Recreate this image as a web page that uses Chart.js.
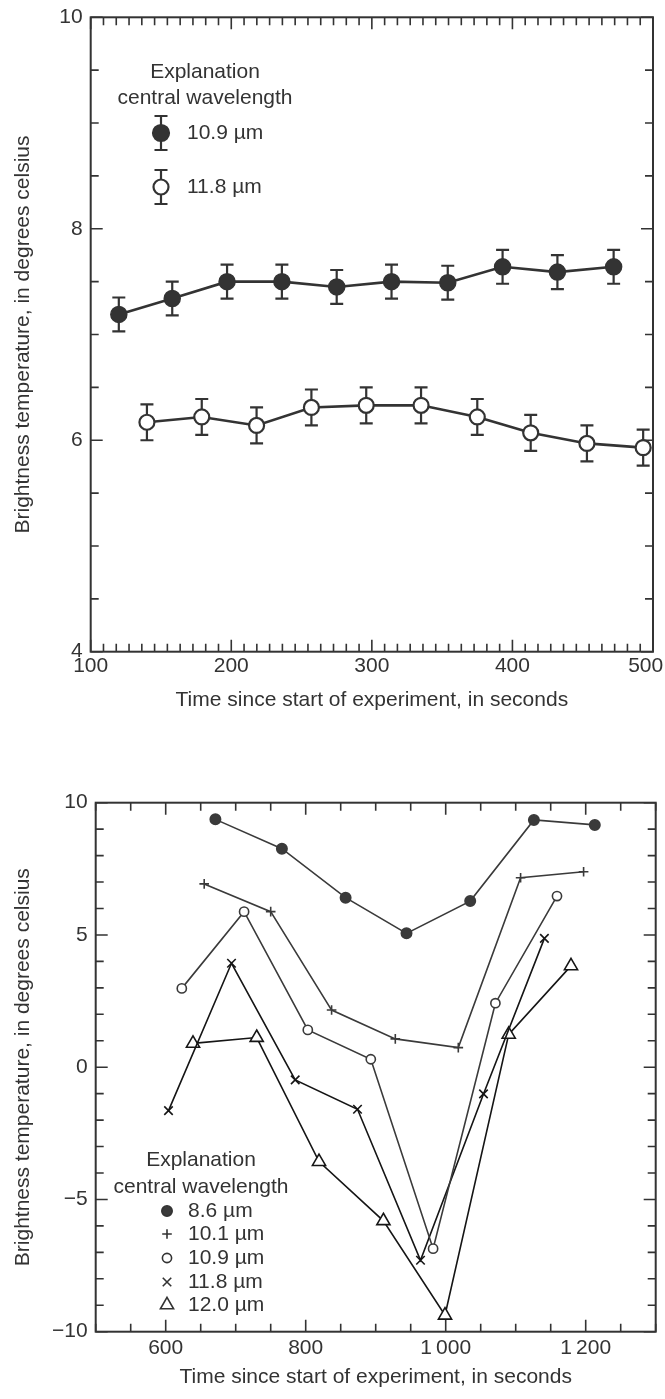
<!DOCTYPE html>
<html>
<head>
<meta charset="utf-8">
<script src="https://cdn.jsdelivr.net/npm/chart.js@4.4.0/dist/chart.umd.min.js"></script>
<style>
body{margin:0;background:#fff;}
#c1{position:absolute;left:0;top:0;}
#c2{position:absolute;left:0;top:730px;}
</style>
</head>
<body>
<canvas id="c1" width="665" height="730"></canvas>
<canvas id="c2" width="665" height="669"></canvas>
<script>
// ---- top chart data (seconds, deg C, +/- error) ----
const topNames = ['10.9 µm', '11.8 µm'];
const topTimeA = [120, 158, 197, 236, 275, 314, 354, 393, 432, 472];
const topTempA = [7.19, 7.34, 7.50, 7.50, 7.45, 7.50, 7.49, 7.64, 7.59, 7.64];
const topErrA  = [0.16, 0.16, 0.16, 0.16, 0.16, 0.16, 0.16, 0.16, 0.16, 0.16];
const topTimeB = [140, 179, 218, 257, 296, 335, 375, 413, 453, 493];
const topTempB = [6.17, 6.22, 6.14, 6.31, 6.33, 6.33, 6.22, 6.07, 5.97, 5.93];
const topErrB  = [0.17, 0.17, 0.17, 0.17, 0.17, 0.17, 0.17, 0.17, 0.17, 0.17];
const topXLabels = [100, 200, 300, 400, 500];
const topYLabels = [4, 6, 8, 10];

// ---- bottom chart data ----
const botNames = ['8.6 µm', '10.1 µm', '10.9 µm', '11.8 µm', '12.0 µm'];
const t86  = [671, 766, 857, 944, 1035, 1126, 1213];
const v86  = [9.37, 8.26, 6.41, 5.06, 6.28, 9.35, 9.16];
const t101 = [655, 750, 837, 928, 1018, 1107, 1197];
const v101 = [6.93, 5.88, 2.16, 1.07, 0.74, 7.16, 7.39];
const t109 = [623, 712, 803, 893, 982, 1071, 1159];
const v109 = [2.98, 5.88, 1.41, 0.30, -6.86, 2.42, 6.47];
const t118 = [604, 694, 785, 874, 964, 1054, 1141];
const v118 = [-1.64, 3.93, -0.48, -1.59, -7.30, -1.01, 4.87];
const t120 = [639, 730, 819, 911, 999, 1090, 1179];
const v120 = [0.90, 1.12, -3.57, -5.81, -9.38, 1.24, 3.83];
const botXLabels = [600, 800, 1000, 1200];
const botYLabels = [-10, -5, 0, 5, 10];

const FONT = '"Liberation Sans", Arial, sans-serif';
const INK = '#333';

const pts = (xs, ys) => xs.map((x, i) => ({x: x, y: ys[i]}));
const range = (a, b, step) => { const r = []; for (let v = a; v <= b + 1e-9; v += step) r.push(v); return r; };

// marker shapes for legends
function mark(ctx, style, x, y, r, fill) {
  ctx.beginPath();
  if (style === 'circle') {
    ctx.arc(x, y, r, 0, Math.PI * 2);
    ctx.fillStyle = fill; ctx.fill(); ctx.stroke();
  } else if (style === 'cross') {
    ctx.moveTo(x - r, y); ctx.lineTo(x + r, y);
    ctx.moveTo(x, y - r); ctx.lineTo(x, y + r); ctx.stroke();
  } else if (style === 'crossRot') {
    const d = r * Math.SQRT1_2;
    ctx.moveTo(x - d, y - d); ctx.lineTo(x + d, y + d);
    ctx.moveTo(x + d, y - d); ctx.lineTo(x - d, y + d); ctx.stroke();
  } else if (style === 'triangle') {
    for (let k = 0; k < 3; k++) {
      const a = k * 2 * Math.PI / 3;
      const px = x + Math.sin(a) * r, py = y - Math.cos(a) * r;
      k ? ctx.lineTo(px, py) : ctx.moveTo(px, py);
    }
    ctx.closePath(); ctx.fillStyle = '#fff'; ctx.fill(); ctx.stroke();
  }
}

// frame with inward ticks on all four sides
const frameTicks = {
  id: 'frameTicks',
  beforeDatasetsDraw(chart, args, o) {
    const {ctx, chartArea: a, scales: {x, y}} = chart;
    ctx.save();
    ctx.strokeStyle = INK;
    ctx.lineWidth = 1.6;
    ctx.beginPath();
    const tx = (v, len) => {
      const p = x.getPixelForValue(v);
      ctx.moveTo(p, a.bottom); ctx.lineTo(p, a.bottom - len);
      ctx.moveTo(p, a.top); ctx.lineTo(p, a.top + len);
    };
    const ty = (v, len) => {
      const p = y.getPixelForValue(v);
      ctx.moveTo(a.left, p); ctx.lineTo(a.left + len, p);
      ctx.moveTo(a.right, p); ctx.lineTo(a.right - len, p);
    };
    o.xMinor.forEach(v => tx(v, o.minorLen));
    o.xMajor.forEach(v => tx(v, o.majorLen));
    o.yMinor.forEach(v => ty(v, o.minorLen));
    o.yMajor.forEach(v => ty(v, o.majorLen));
    ctx.stroke();
    ctx.lineWidth = 2;
    ctx.strokeRect(a.left, a.top, a.right - a.left, a.bottom - a.top);
    ctx.restore();
  }
};

// vertical error bars, drawn under the markers
const errorBars = {
  id: 'errorBars',
  beforeDatasetsDraw(chart) {
    const {ctx, scales: {x, y}} = chart;
    ctx.save();
    ctx.strokeStyle = INK;
    ctx.lineWidth = 2.2;
    chart.data.datasets.forEach(ds => {
      if (!ds.errors) return;
      ds.data.forEach((p, i) => {
        const px = x.getPixelForValue(p.x);
        const hi = y.getPixelForValue(p.y + ds.errors[i]);
        const lo = y.getPixelForValue(p.y - ds.errors[i]);
        ctx.beginPath();
        ctx.moveTo(px, hi); ctx.lineTo(px, lo);
        ctx.moveTo(px - 6.5, hi); ctx.lineTo(px + 6.5, hi);
        ctx.moveTo(px - 6.5, lo); ctx.lineTo(px + 6.5, lo);
        ctx.stroke();
      });
    });
    ctx.restore();
  }
};

// "Explanation" box
const explanation = {
  id: 'explanation',
  afterDraw(chart, args, o) {
    const ctx = chart.ctx;
    ctx.save();
    ctx.font = '21px ' + FONT;
    ctx.fillStyle = INK;
    ctx.textBaseline = 'middle';
    ctx.textAlign = 'center';
    ctx.fillText('Explanation', o.cx, o.y1);
    ctx.fillText('central wavelength', o.cx, o.y2);
    o.items.forEach(it => {
      ctx.strokeStyle = INK;
      ctx.lineWidth = it.lw;
      if (it.err) {
        ctx.beginPath();
        ctx.moveTo(o.mx, it.y - it.err); ctx.lineTo(o.mx, it.y + it.err);
        ctx.moveTo(o.mx - 6.5, it.y - it.err); ctx.lineTo(o.mx + 6.5, it.y - it.err);
        ctx.moveTo(o.mx - 6.5, it.y + it.err); ctx.lineTo(o.mx + 6.5, it.y + it.err);
        ctx.stroke();
      }
      mark(ctx, it.style, o.mx, it.y, it.r, it.fill);
      ctx.fillStyle = INK;
      ctx.textAlign = 'left';
      ctx.fillText(it.label, o.tx, it.y);
    });
    ctx.restore();
  }
};

function axisFont() { return {family: FONT, size: 21}; }
function minus(v) { return String(v).replace('-', '\u2212'); }

// ---------------- top chart ----------------
new Chart(document.getElementById('c1'), {
  type: 'line',
  data: {
    datasets: [
      {
        label: topNames[0], data: pts(topTimeA, topTempA), errors: topErrA,
        borderColor: INK, borderWidth: 2.6, tension: 0,
        pointStyle: 'circle', pointRadius: 8, pointBackgroundColor: INK,
        pointBorderColor: INK, pointBorderWidth: 1.5, clip: false
      },
      {
        label: topNames[1], data: pts(topTimeB, topTempB), errors: topErrB,
        borderColor: INK, borderWidth: 2.6, tension: 0,
        pointStyle: 'circle', pointRadius: 7.5, pointBackgroundColor: '#fff',
        pointBorderColor: INK, pointBorderWidth: 2.2, clip: false
      }
    ]
  },
  options: {
    responsive: false, animation: false,
    layout: {padding: {top: 17.3, right: 12, bottom: 0, left: 0}},
    plugins: {
      legend: {display: false}, tooltip: {enabled: false},
      frameTicks: {
        xMinor: range(100, 500, 100 / 11), xMajor: topXLabels,
        yMinor: range(4, 10, 0.5), yMajor: topYLabels,
        minorLen: 8, majorLen: 12
      },
      explanation: {
        cx: 205, y1: 72, y2: 98, mx: 161, tx: 187,
        items: [
          {label: topNames[0], style: 'circle', y: 133, r: 8, fill: INK, lw: 2.2, err: 17},
          {label: topNames[1], style: 'circle', y: 187, r: 7.5, fill: '#fff', lw: 2.2, err: 17}
        ]
      }
    },
    scales: {
      x: {
        type: 'linear', min: 100, max: 500,
        grid: {display: false, drawTicks: false}, border: {display: false},
        afterBuildTicks: s => { s.ticks = topXLabels.map(v => ({value: v})); },
        afterFit: s => { s.height = 730 - 651.7; s.paddingLeft = 0; s.paddingRight = 0; },
        ticks: {
          color: INK, font: axisFont(), padding: 2, maxRotation: 0, autoSkip: false,
          // last label kept inside the page, as in the original
          callback: v => v === 500 ? '500\u2002\u2009' : String(v)
        },
        title: {display: true, text: 'Time since start of experiment, in seconds', color: INK,
                font: axisFont(), padding: {top: 0, bottom: 17}}
      },
      y: {
        type: 'linear', min: 4, max: 10,
        grid: {display: false, drawTicks: false}, border: {display: false},
        afterBuildTicks: s => { s.ticks = topYLabels.map(v => ({value: v})); },
        afterFit: s => { s.width = 90.7; s.paddingTop = 0; s.paddingBottom = 0; },
        ticks: {color: INK, font: axisFont(), padding: 8},
        title: {display: true, text: 'Brightness temperature, in degrees celsius', color: INK,
                font: axisFont(), padding: {top: 11, bottom: 0}}
      }
    }
  },
  plugins: [frameTicks, errorBars, explanation]
});

// ---------------- bottom chart ----------------
const grey = '#3a3a3a', dark = '#151515';
function series(label, xs, ys, style, r, fill, color) {
  return {
    label: label, data: pts(xs, ys), borderColor: color, borderWidth: 1.6, tension: 0,
    pointStyle: style, pointRadius: r, pointBackgroundColor: fill,
    pointBorderColor: color, pointBorderWidth: 1.6, clip: false
  };
}

new Chart(document.getElementById('c2'), {
  type: 'line',
  data: {
    datasets: [
      series(botNames[0], t86, v86, 'circle', 5.2, grey, grey),
      series(botNames[1], t101, v101, 'cross', 4.8, grey, grey),
      series(botNames[2], t109, v109, 'circle', 4.6, '#fff', grey),
      series(botNames[3], t118, v118, 'crossRot', 6, dark, dark),
      series(botNames[4], t120, v120, 'triangle', 7.6, '#fff', dark)
    ]
  },
  options: {
    responsive: false, animation: false,
    layout: {padding: {top: 72.7, right: 9.3, bottom: 0, left: 0}},
    plugins: {
      legend: {display: false}, tooltip: {enabled: false},
      frameTicks: {
        xMinor: range(500, 1300, 50), xMajor: botXLabels,
        yMinor: range(-10, 10, 1), yMajor: botYLabels,
        minorLen: 8, majorLen: 12
      },
      explanation: {
        cx: 201, y1: 430, y2: 457, mx: 167, tx: 188,
        items: [
          {label: botNames[0], style: 'circle', y: 481, r: 5.2, fill: grey, lw: 1.6},
          {label: botNames[1], style: 'cross', y: 504, r: 4.8, fill: grey, lw: 1.6},
          {label: botNames[2], style: 'circle', y: 528, r: 4.6, fill: '#fff', lw: 1.6},
          {label: botNames[3], style: 'crossRot', y: 552, r: 6, fill: dark, lw: 1.6},
          {label: botNames[4], style: 'triangle', y: 575, r: 7.6, fill: '#fff', lw: 1.6}
        ]
      }
    },
    scales: {
      x: {
        type: 'linear', min: 500, max: 1300,
        grid: {display: false, drawTicks: false}, border: {display: false},
        afterBuildTicks: s => { s.ticks = botXLabels.map(v => ({value: v})); },
        afterFit: s => { s.height = 669 - 601.7; s.paddingLeft = 0; s.paddingRight = 0; },
        ticks: {
          color: INK, font: axisFont(), padding: 4, maxRotation: 0, autoSkip: false,
          callback: v => v >= 1000 ? String(v).replace(/(\d)(\d{3})$/, '$1\u2009$2') : String(v)
        },
        title: {display: true, text: 'Time since start of experiment, in seconds', color: INK,
                font: axisFont(), padding: {top: 0, bottom: 9}}
      },
      y: {
        type: 'linear', min: -10, max: 10,
        grid: {display: false, drawTicks: false}, border: {display: false},
        afterBuildTicks: s => { s.ticks = botYLabels.map(v => ({value: v})); },
        afterFit: s => { s.width = 95.7; s.paddingTop = 0; s.paddingBottom = 0; },
        ticks: {color: INK, font: axisFont(), padding: 8, callback: v => minus(v)},
        title: {display: true, text: 'Brightness temperature, in degrees celsius', color: INK,
                font: axisFont(), padding: {top: 11, bottom: 0}}
      }
    }
  },
  plugins: [frameTicks, explanation]
});
</script>
</body>
</html>
